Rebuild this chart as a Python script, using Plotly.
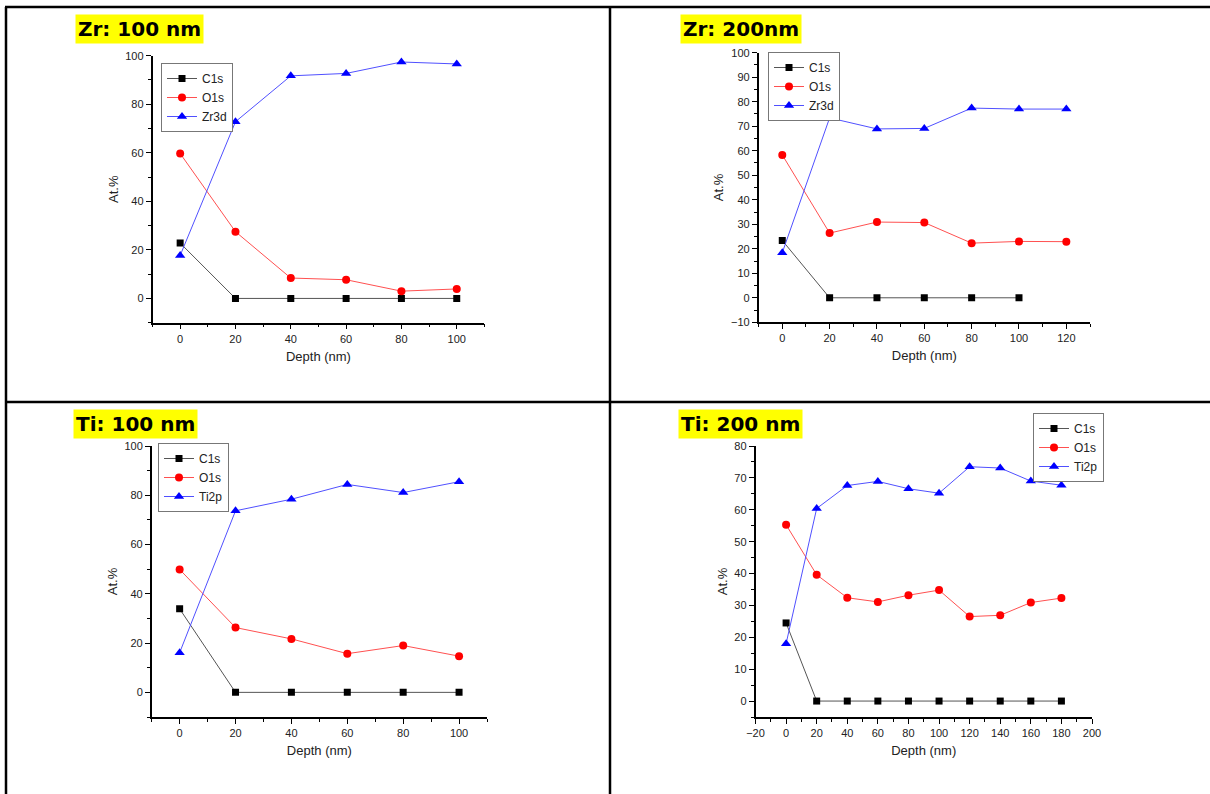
import plotly.graph_objects as go

# ---- XPS depth profiles (atomic %) ----
zr100_depth = [0, 20, 40, 60, 80, 100]
zr100_c1s = [22.8, 0, 0, 0, 0, 0]
zr100_o1s = [59.7, 27.5, 8.4, 7.7, 3.0, 3.9]
zr100_zr3d = [17.7, 72.8, 91.7, 92.7, 97.4, 96.6]

zr200_depth = [0, 20, 40, 60, 80, 100, 120]
zr200_c1s_depth = [0, 20, 40, 60, 80, 100]
zr200_c1s = [23.4, 0, 0, 0, 0, 0]
zr200_o1s = [58.3, 26.4, 30.9, 30.7, 22.3, 23.0, 22.9]
zr200_zr3d = [18.4, 73.4, 68.9, 69.1, 77.4, 77.0, 77.0]

ti100_depth = [0, 20, 40, 60, 80, 100]
ti100_c1s = [33.9, 0, 0, 0, 0, 0]
ti100_o1s = [49.9, 26.3, 21.7, 15.7, 19.0, 14.7]
ti100_ti2p = [16.1, 73.7, 78.4, 84.4, 81.1, 85.5]

ti200_depth = [0, 20, 40, 60, 80, 100, 120, 140, 160, 180]
ti200_c1s = [24.5, 0, 0, 0, 0, 0, 0, 0, 0, 0]
ti200_o1s = [55.3, 39.6, 32.4, 31.1, 33.2, 34.8, 26.5, 26.9, 30.9, 32.3]
ti200_ti2p = [18.0, 60.4, 67.6, 68.9, 66.6, 65.2, 73.5, 73.1, 69.0, 67.7]

panel_titles = ["Zr: 100 nm", "Zr: 200nm", "Ti: 100 nm", "Ti: 200 nm"]

W, H = 1210, 794


def px_x(v):
    return v / W


def px_y(v):
    return 1 - v / H


fig = go.Figure()

# panel geometry in pixels: (left, right, top, bottom), legend (left, top), title (left, top)
panels = [
    dict(box=(152.5, 484.4, 55.7, 322.7), legend=(161, 63), title=(75, 14),
         xr=[-10, 110], yr=[-10, 100], xd=20, yd=20, xm=10, ym=10),
    dict(box=(758.6, 1090, 52.7, 322.3), legend=(768, 52), title=(679.5, 14),
         xr=[-10, 130], yr=[-10, 100], xd=20, yd=10, xm=10, ym=5),
    dict(box=(151.7, 487, 446, 717), legend=(158, 443), title=(73, 409),
         xr=[-10, 110], yr=[-10, 100], xd=20, yd=20, xm=10, ym=10),
    dict(box=(755.5, 1092, 446, 717), legend=(1033, 413), title=(677.5, 409),
         xr=[-20, 200], yr=[-5, 80], xd=20, yd=10, xm=10, ym=5),
]

series = [
    [("C1s", zr100_depth, zr100_c1s), ("O1s", zr100_depth, zr100_o1s), ("Zr3d", zr100_depth, zr100_zr3d)],
    [("C1s", zr200_c1s_depth, zr200_c1s), ("O1s", zr200_depth, zr200_o1s), ("Zr3d", zr200_depth, zr200_zr3d)],
    [("C1s", ti100_depth, ti100_c1s), ("O1s", ti100_depth, ti100_o1s), ("Ti2p", ti100_depth, ti100_ti2p)],
    [("C1s", ti200_depth, ti200_c1s), ("O1s", ti200_depth, ti200_o1s), ("Ti2p", ti200_depth, ti200_ti2p)],
]

styles = [
    dict(line=dict(color="#555555", width=1), marker=dict(symbol="square", size=7, color="#000000")),
    dict(line=dict(color="#ff5050", width=1), marker=dict(symbol="circle", size=8, color="#ff0000")),
    dict(line=dict(color="#5050ff", width=1), marker=dict(symbol="triangle-up", size=9, color="#0000ff")),
]

tick_font = dict(family="Liberation Sans, Arial", size=11, color="#222222")
label_font = dict(family="Liberation Sans, Arial", size=13, color="#222222")

for i, (p, sers) in enumerate(zip(panels, series)):
    n = "" if i == 0 else str(i + 1)
    leg = "legend" if i == 0 else f"legend{i + 1}"
    for (name, xs, ys), st in zip(sers, styles):
        fig.add_trace(go.Scatter(
            x=xs, y=ys, name=name, mode="lines+markers",
            line=st["line"], marker=st["marker"],
            xaxis=f"x{n}", yaxis=f"y{n}", legend=leg,
        ))
    l, r, t, b = p["box"]
    axis_common = dict(
        showline=True, linecolor="#000000", linewidth=1.5, mirror=False,
        showgrid=False, zeroline=False, ticks="outside", ticklen=5,
        tickwidth=1.2, tickcolor="#000000", tickfont=tick_font,
        automargin=False,
    )
    fig.update_layout(**{
        f"xaxis{n}": dict(
            domain=[px_x(l), px_x(r)], range=p["xr"], dtick=p["xd"], tick0=0,
            anchor=f"y{n}",
            minor=dict(dtick=p["xm"], tick0=0, ticks="outside", ticklen=3, tickcolor="#000000"),
            title=dict(text="Depth (nm)", font=label_font, standoff=8),
            **axis_common,
        ),
        f"yaxis{n}": dict(
            domain=[px_y(b), px_y(t)], range=p["yr"], dtick=p["yd"], tick0=0,
            anchor=f"x{n}",
            minor=dict(dtick=p["ym"], tick0=0, ticks="outside", ticklen=3, tickcolor="#000000"),
            title=dict(text="At.%", font=label_font, standoff=4),
            **axis_common,
        ),
        leg: dict(
            x=px_x(p["legend"][0]), y=px_y(p["legend"][1]),
            xanchor="left", yanchor="top",
            bgcolor="rgba(255,255,255,1)", bordercolor="#777777", borderwidth=1,
            font=dict(family="Liberation Sans, Arial", size=12, color="#222222"),
            itemwidth=30, tracegroupgap=0,
        ),
    })
    fig.add_annotation(
        text=f"<b>{panel_titles[i]}</b>", xref="paper", yref="paper",
        x=px_x(p["title"][0]), y=px_y(p["title"][1]),
        xanchor="left", yanchor="top", showarrow=False,
        bgcolor="#ffff00", borderpad=2,
        font=dict(family="DejaVu Sans, sans-serif", size=20, color="#000000"),
    )

# table border lines
border = dict(color="#000000", width=2.5)
for x0, y0, x1, y1 in [
    (6, 7, 6, 794),          # left edge
    (5, 7, 1210, 7),         # top edge
    (610, 7, 610, 794),      # centre divider
    (5, 402, 1210, 402),     # middle divider
]:
    fig.add_shape(type="line", xref="paper", yref="paper",
                  x0=px_x(x0), y0=px_y(y0), x1=px_x(x1), y1=px_y(y1), line=border)

fig.update_layout(
    width=W, height=H,
    margin=dict(l=0, r=0, t=0, b=0, autoexpand=False),
    paper_bgcolor="#ffffff", plot_bgcolor="#ffffff",
    showlegend=True,
)

fig.write_html("out.html")
